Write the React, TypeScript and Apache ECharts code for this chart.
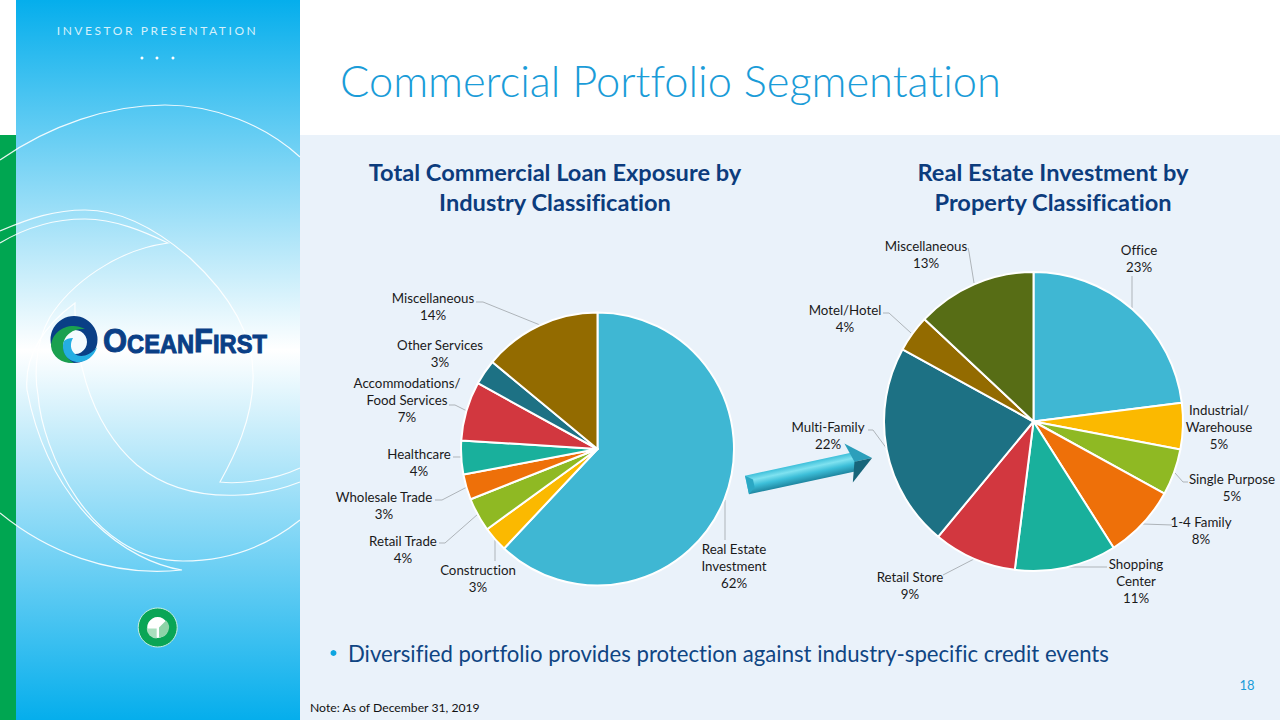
import React, { useEffect, useRef } from "react";
import * as echarts from "echarts";

const industryNames = ["Real Estate\nInvestment", "Construction", "Retail Trade", "Wholesale Trade", "Healthcare", "Accommodations/\nFood Services", "Other Services", "Miscellaneous"];
const industryValues = [62, 3, 4, 3, 4, 7, 3, 14];
const industryColors = ["#3fb7d3", "#fbb900", "#8fb923", "#ee7009", "#19b09c", "#d2373f", "#1d7184", "#936b00"];

const propertyNames = ["Office", "Industrial/\nWarehouse", "Single Purpose", "1-4 Family", "Shopping\nCenter", "Retail Store", "Multi-Family", "Motel/Hotel", "Miscellaneous"];
const propertyValues = [23, 5, 5, 8, 11, 9, 22, 4, 13];
const propertyColors = ["#3fb7d3", "#fbb900", "#8fb923", "#ee7009", "#19b09c", "#d2373f", "#1d7184", "#936b00", "#576d15"];

const titleText = "Commercial Portfolio Segmentation";
const leftTitle = "Total Commercial Loan Exposure by\nIndustry Classification";
const rightTitle = "Real Estate Investment by\nProperty Classification";
const bulletText = "Diversified portfolio provides protection against industry-specific credit events";
const noteText = "Note: As of December 31, 2019";
const pageNumber = "18";
const kicker = "INVESTOR PRESENTATION";

// Label placement (annotation layout, separate from the data)
type Place = { c: number[]; line?: number[][] };
const industryPlaces: Place[] = [
  { c: [734, 566], line: [[725, 500], [725, 540]] },
  { c: [478, 578], line: [[495, 540], [495, 561]] },
  { c: [403, 549], line: [[478, 514], [445, 543], [439, 543]] },
  { c: [384, 505], line: [[467, 487], [442, 500], [435, 500]] },
  { c: [419, 462], line: [[462, 457], [453, 457]] },
  { c: [407, 400], line: [[467, 411], [455, 405], [449, 405]] },
  { c: [440, 353] },
  { c: [433, 306], line: [[540, 325], [483, 302], [476, 302]] },
];
const propertyPlaces: Place[] = [
  { c: [1139, 258], line: [[1132, 308], [1132, 276]] },
  { c: [1219, 427] },
  { c: [1232, 487], line: [[1175, 473], [1183, 482], [1188, 482]] },
  { c: [1201, 530], line: [[1143, 524], [1172, 525]] },
  { c: [1136, 581], line: [[1067, 567], [1107, 567]] },
  { c: [910, 585], line: [[974, 559], [943, 575]] },
  { c: [828, 435], line: [[887, 449], [873, 430], [868, 430]] },
  { c: [845, 318], line: [[911, 333], [889, 313], [883, 313]] },
  { c: [926, 254], line: [[974, 283], [969, 252], [968, 248]] },
];

const swooshes = [
  "M0,160 C50,125 110,105 165,105 C215,105 265,125 300,157",
  "M0,513 C45,550 110,578 182,570 C130,562 50,510 27,390 C24,355 45,325 75,303 C74,345 85,420 137,465 C165,488 200,497 240,495 C262,494 282,489 300,482",
  "M0,231 C30,218 55,210 85,210 C125,210 160,232 190,258 C230,295 255,335 253,380 C252,420 235,455 220,482 C235,484 270,482 300,468",
  "M0,243 C25,228 55,219 85,219 C115,219 145,232 168,243 C115,250 70,285 50,317 C32,348 36,385 38,395 C42,450 90,561 183,561 C225,561 265,548 300,520",
];
const logoGreen = "M85,329 C70,321 52,330 51,346 C52,358 64,364 74,363 C65,358 61,349 64,341 C66,334 74,328 85,329 Z";
const logoBlue = "M64,341 C60,352 68,363 80,362 C90,361 96,352 97,347 C90,356 80,358 75,354 C70,350 70,343 73,338 C69,338 66,339 64,341 Z";

function makeSeries(names: string[], values: number[], colors: string[], places: Place[], center: number[], radius: number) {
  return {
    type: "pie",
    center,
    radius,
    startAngle: 90,
    clockwise: true,
    silent: true,
    avoidLabelOverlap: false,
    itemStyle: { borderColor: "#ffffff", borderWidth: 2 },
    label: {
      show: true,
      formatter: "{b}\n{c}%",
      fontFamily: "Lato",
      fontSize: 13.3,
      lineHeight: 17,
      color: "#1a1a1a",
      align: "center",
    },
    labelLine: { show: true, showAbove: false, lineStyle: { color: "#aeb4b9", width: 1 } },
    labelLayout: (p: any) => {
      const pl = places[p.dataIndex];
      return { x: pl.c[0], y: pl.c[1], align: "center", verticalAlign: "middle", labelLinePoints: pl.line };
    },
    data: names.map((name, i) => ({
      name,
      value: values[i],
      itemStyle: { color: colors[i] },
      labelLine: { show: !!places[i].line },
    })),
  };
}

export default function App() {
  const ref = useRef<HTMLDivElement>(null);
  useEffect(() => {
    if (!ref.current) return;
    swooshes.forEach((d, i) => echarts.graphic.registerShape("swoosh" + i, echarts.graphic.extendPath(d, {})));
    echarts.graphic.registerShape("logoGreen", echarts.graphic.extendPath(logoGreen, {}));
    echarts.graphic.registerShape("logoBlue", echarts.graphic.extendPath(logoBlue, {}));
    const chart = echarts.init(ref.current, undefined, { renderer: "svg" });
    const text = (t: string, x: number, y: number, style: any) => ({
      type: "text",
      x,
      y,
      silent: true,
      style: { text: t, fontFamily: "Lato", verticalAlign: "middle", ...style },
    });
    chart.setOption({
      animation: false,
      backgroundColor: "#ffffff",
      graphic: {
        elements: [
          { type: "rect", shape: { x: 300, y: 135, width: 980, height: 585 }, style: { fill: "#eaf2fa" }, silent: true },
          { type: "rect", shape: { x: 0, y: 135, width: 16, height: 585 }, style: { fill: "#00a651" }, silent: true },
          {
            type: "rect",
            shape: { x: 16, y: 0, width: 284, height: 720 },
            silent: true,
            style: {
              fill: {
                type: "linear", x: 0, y: 0, x2: 0, y2: 1,
                colorStops: [
                  { offset: 0, color: "#05aeec" },
                  { offset: 0.486, color: "#ffffff" },
                  { offset: 1, color: "#05aeec" },
                ],
              },
            },
          },
          ...swooshes.map((_, i) => ({
            type: "swoosh" + i, x: 0, y: 0, silent: true,
            style: { fill: "none", stroke: "#ffffff", lineWidth: 1.2, opacity: 0.9 },
          })),
          // logo
          { type: "circle", shape: { cx: 74, cy: 339.5, r: 23.5 }, style: { fill: "#0a3f86" }, silent: true },
          { type: "circle", shape: { cx: 75, cy: 342, r: 12 }, style: { fill: "#f4fbfe" }, silent: true },
          { type: "logoGreen", x: 0, y: 0, silent: true, style: { fill: "#1aa04f" } },
          { type: "logoBlue", x: 0, y: 0, silent: true, style: { fill: "#25aee3" } },
          {
            type: "text", x: 103, y: 340, scaleX: 0.91, silent: true,
            style: {
              text: "{a|O}{b|CEAN}{a|F}{b|IRST}",
              verticalAlign: "middle",
              rich: {
                a: { fontFamily: "Liberation Sans", fontWeight: "bold", fontSize: 34, fill: "#0a3f86", stroke: "#0a3f86", lineWidth: 1, verticalAlign: "bottom" },
                b: { fontFamily: "Liberation Sans", fontWeight: "bold", fontSize: 26, fill: "#0a3f86", stroke: "#0a3f86", lineWidth: 1, verticalAlign: "bottom" },
              },
            },
          },
          // small pie badge
          { type: "circle", shape: { cx: 157.7, cy: 627.5, r: 19.5 }, style: { fill: "#0aa556", stroke: "#c9efe2", lineWidth: 1 }, silent: true },
          { type: "circle", shape: { cx: 157.7, cy: 627.5, r: 10.5 }, style: { fill: "#ffffff" }, silent: true },
          { type: "sector", shape: { cx: 156.7, cy: 628.5, r: 10, r0: 0, startAngle: Math.PI * 0.5, endAngle: Math.PI, clockwise: true }, style: { fill: "#a9dfbe" }, silent: true },
          { type: "sector", shape: { cx: 159, cy: 627.5, r: 10, r0: 0, startAngle: -Math.PI * 0.25, endAngle: Math.PI * 0.5, clockwise: true }, style: { fill: "#8fd3a8" }, silent: true },
          text(kicker, 157.5, 30.5, { fontSize: 12, fill: "#d4f0fb", align: "center" }),
          { type: "circle", shape: { cx: 142, cy: 58, r: 1.5 }, style: { fill: "#ffffff" }, silent: true },
          { type: "circle", shape: { cx: 157, cy: 58, r: 1.5 }, style: { fill: "#ffffff" }, silent: true },
          { type: "circle", shape: { cx: 173, cy: 58, r: 1.5 }, style: { fill: "#ffffff" }, silent: true },
          // title block
          text(titleText, 340, 80, { fontSize: 43.4, fontWeight: 300, fill: "#1a9cd8", align: "left" }),
          text(leftTitle, 555, 186.5, { fontSize: 23.6, fontWeight: "bold", fill: "#0c3c7d", align: "center", lineHeight: 30 }),
          text(rightTitle, 1053, 186.5, { fontSize: 23.6, fontWeight: "bold", fill: "#0c3c7d", align: "center", lineHeight: 30 }),
          { type: "circle", shape: { cx: 333.5, cy: 653, r: 3 }, style: { fill: "#0ea5e0" }, silent: true },
          text(bulletText, 348, 653, { fontSize: 22.15, fill: "#0f4583", align: "left" }),
          text(noteText, 310, 707, { fontSize: 12.2, fill: "#111111", align: "left" }),
          text(pageNumber, 1247, 685, { fontSize: 13, fill: "#1a9cd8", align: "center" }),
          // arrow
          {
            type: "group", x: 747, y: 485, rotation: 0.213, silent: true,
            children: [
              {
                type: "polygon",
                shape: { points: [[0, -9.5], [112, -9.5], [112, 9.5], [0, 9.5]] },
                style: {
                  fill: {
                    type: "linear", x: 0, y: 0, x2: 0, y2: 1,
                    colorStops: [
                      { offset: 0, color: "#3fc0da" },
                      { offset: 0.3, color: "#7fe2f0" },
                      { offset: 0.6, color: "#3dbfd9" },
                      { offset: 1, color: "#1f86a0" },
                    ],
                  },
                },
              },
              { type: "polygon", shape: { points: [[0, -9.5], [7, -4], [7, 4], [0, 9.5]] }, style: { fill: "#2ba8c4" } },
              { type: "polygon", shape: { points: [[104, -20], [128, 0], [110, 0]] }, style: { fill: "#2c9fbb" } },
              { type: "polygon", shape: { points: [[104, 20], [128, 0], [110, 0]] }, style: { fill: "#17657a" } },
            ],
          },
        ],
      },
      series: [
        makeSeries(industryNames, industryValues, industryColors, industryPlaces, [597.5, 449], 136.5),
        makeSeries(propertyNames, propertyValues, propertyColors, propertyPlaces, [1033.5, 421.5], 149.5),
      ],
    });
    // The library has no letter-spacing option: apply it to the finished SVG text.
    ref.current.querySelectorAll("text").forEach((t) => {
      if (t.textContent === kicker) (t as SVGTextElement).style.letterSpacing = "2.55px";
    });
    return () => chart.dispose();
  }, []);
  return <div ref={ref} style={{ position: "fixed", left: 0, top: 0, width: 1280, height: 720, fontVariantLigatures: "none" }} />;
}
